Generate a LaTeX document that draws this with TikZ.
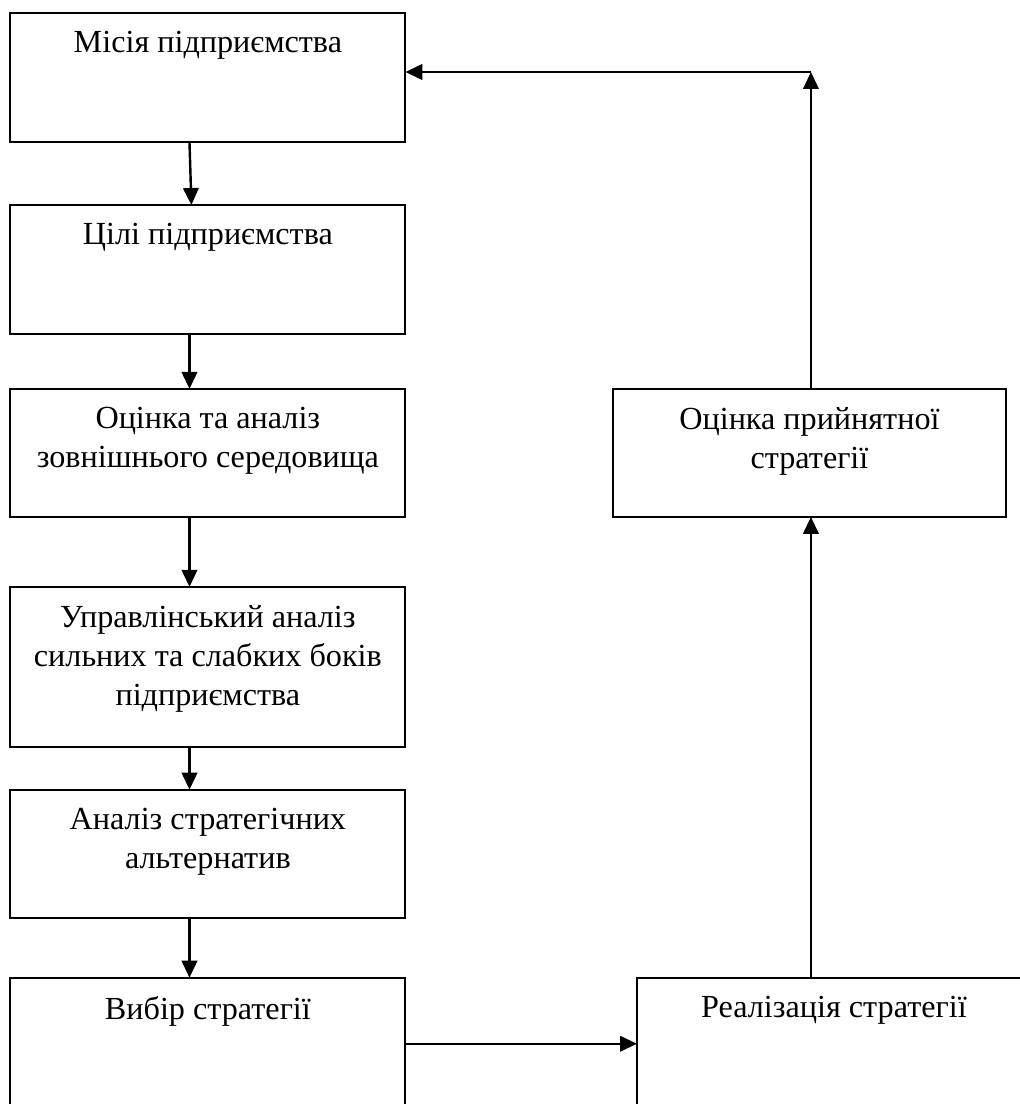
\documentclass[tikz,border=0pt]{standalone}
\usepackage{fontspec}
\setmainfont{Liberation Serif}
\usepackage{tikz}
\usetikzlibrary{arrows.meta,positioning,calc}
\tikzset{
    every picture/.style={line join=miter},
    stagebox/.style={draw=black,line width=0.8pt,rectangle,inner sep=0pt,outer sep=0pt,
      minimum width=163.2pt,minimum height=52.9pt},
    stagetext/.style={inner sep=0pt,align=center,font=\fontsize{13.3}{16.1}\selectfont},
    flowarrow/.style={-{Triangle[length=7pt,width=6.4pt]},draw=black,line width=1pt}
}
\begin{document}
\begin{tikzpicture}[x=1pt,y=1pt]
  \useasboundingbox (0,0) rectangle (421.1,-456.2);
  \node[stagebox,minimum height=53.3pt,anchor=north] (mission) at (85.9,-5.4) {};
  \node[stagebox,minimum height=53.3pt,below=26pt of mission] (goals) {};
  \node[stagebox,below=22.7pt of goals] (environment) {};
  \node[stagebox,minimum height=66.1pt,below=28.9pt of environment] (swot) {};
  \node[stagebox,below=17.7pt of swot] (alternatives) {};
  \node[stagebox,minimum height=70pt,below=24.8pt of alternatives] (choice) {};
  \node[stagebox,minimum width=162.8pt,minimum height=70pt,anchor=north west] (realization) at (263.2,-404.1) {};
  \node[stagebox,minimum width=162.4pt,anchor=north west] (evaluation) at (253.3,-160.7) {};
  \coordinate (turn) at (335.1,-29.75);

  \node[stagetext,below=7.4pt of mission.north] {Місія підприємства};
  \node[stagetext,below=7.4pt of goals.north] {Цілі підприємства};
  \node[stagetext,below=7.4pt of environment.north] {Оцінка та аналіз\\зовнішнього середовища};
  \node[stagetext,below=7.4pt of swot.north] {Управлінський аналіз\\сильних та слабких боків\\підприємства};
  \node[stagetext,below=7.4pt of alternatives.north] {Аналіз стратегічних\\альтернатив};
  \node[stagetext,below=7.4pt of choice.north] {Вибір стратегії};
  \node[stagetext,below=7.4pt of realization.north] {Реалізація стратегії};
  \node[stagetext,below=7.4pt of evaluation.north] {Оцінка прийнятної\\стратегії};

  \draw[flowarrow] ([xshift=-7.6pt]mission.south) -- ([xshift=-6.8pt]goals.north);
  \draw[flowarrow] ([xshift=-7.6pt]goals.south) -- ([xshift=-7.6pt]environment.north);
  \draw[flowarrow] ([xshift=-7.6pt]environment.south) -- ([xshift=-7.6pt]swot.north);
  \draw[flowarrow] ([xshift=-7.6pt]swot.south) -- ([xshift=-7.6pt]alternatives.north);
  \draw[flowarrow] ([xshift=-7.6pt]alternatives.south) -- ([xshift=-7.6pt]choice.north);
  \draw[flowarrow] ([yshift=-27.3pt]choice.north east) -- ([yshift=-27.3pt]choice.north east -| realization.west);
  \draw[flowarrow] (realization.north -| turn) -- (evaluation.south -| turn);
  \draw[flowarrow] (evaluation.north -| turn) -- (turn);
  \draw[flowarrow] (turn) -- (mission.east |- turn);
\end{tikzpicture}
\end{document}
